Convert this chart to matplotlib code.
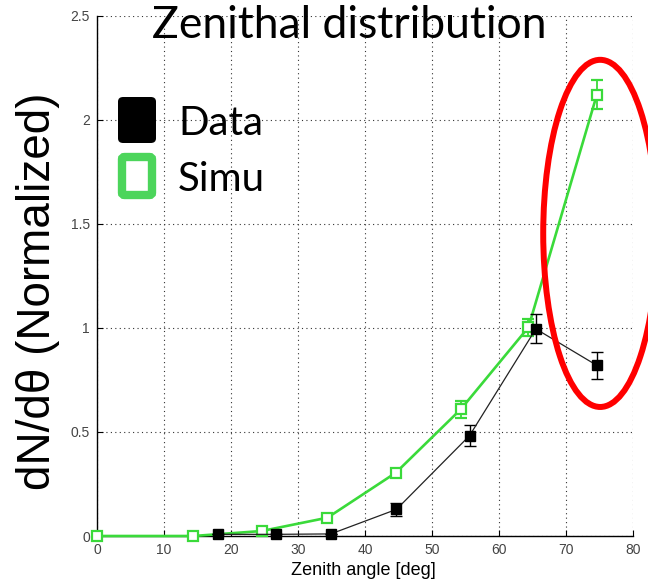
import matplotlib
matplotlib.use("Agg")
import matplotlib.pyplot as plt
from matplotlib.patches import Ellipse, FancyBboxPatch

# Measured zenith distributions (normalized)
data_angle = [18.1, 26.7, 34.9, 44.7, 55.6, 65.5, 74.6]
data_value = [0.008, 0.008, 0.01, 0.128, 0.482, 0.995, 0.82]
data_err = [0.0, 0.0, 0.0, 0.03, 0.05, 0.07, 0.065]

simu_angle = [0.0, 14.4, 24.6, 34.4, 44.6, 54.3, 64.4, 74.6]
simu_value = [0.0, 0.0, 0.024, 0.088, 0.304, 0.609, 1.003, 2.12]
simu_err = [0.0, 0.0, 0.01, 0.01, 0.02, 0.04, 0.04, 0.07]

x_ticks = [0, 10, 20, 30, 40, 50, 60, 70, 80]
y_ticks = [0, 0.5, 1, 1.5, 2, 2.5]
y_tick_labels = ["0", "0.5", "1", "1.5", "2", "2.5"]

GREEN = "#3ADA3A"
LEGEND_GREEN = "#4CD55B"

W, H = 648, 583
fig = plt.figure(figsize=(W / 100, H / 100), dpi=100)
ax = fig.add_axes([97 / W, 1 - 536 / H, (633 - 97) / W, (536 - 15.7) / H])

ax.set_xlim(0, 80)
ax.set_ylim(0, 2.5)
ax.set_xticks(x_ticks)
ax.set_yticks(y_ticks)
ax.set_yticklabels(y_tick_labels)
ax.tick_params(direction="in", length=4, width=0.8, labelsize=10,
               labelcolor="#444444", pad=5)
for lab in ax.get_xticklabels() + ax.get_yticklabels():
    lab.set_family("Liberation Sans")
ax.spines["top"].set_visible(False)
ax.spines["right"].set_visible(False)
ax.spines["left"].set_linewidth(1.0)
ax.spines["bottom"].set_linewidth(1.0)
ax.grid(True, color="#333333", linestyle=(0, (1, 3)), linewidth=0.8)
ax.set_axisbelow(True)

# Simulation: hollow green squares on a thick line
ax.errorbar(simu_angle, simu_value, yerr=simu_err, color=GREEN, lw=1.9,
            marker="s", markersize=7.5, markerfacecolor="white",
            markeredgecolor=GREEN, markeredgewidth=1.6,
            ecolor=GREEN, elinewidth=1.3, capsize=4.5, capthick=1.3,
            zorder=3, clip_on=False)

# Data: filled black squares on a thin line
ax.errorbar(data_angle, data_value, yerr=data_err, color="#222222", lw=0.9,
            marker="s", markersize=7, markerfacecolor="black",
            markeredgecolor="black", ecolor="black", elinewidth=1.0,
            capsize=4.5, capthick=1.0, zorder=4, clip_on=False)

# Highlight around the last bin
ax.add_patch(Ellipse((75.1, 1.454), 17.0, 1.668, fill=False,
                     edgecolor="#FF0000", linewidth=4.3, zorder=5,
                     clip_on=False))

# Title and labels
fig.text(349 / W, 1 - 38 / H, "Zenithal distribution", fontsize=32,
         family="Lato", ha="center", va="baseline", color="black")
fig.text(38 / W, 1 - 291 / H, "dN/d\u03b8 (Normalized)", fontsize=33,
         family="Liberation Sans", rotation=90, ha="center", va="center")
fig.text(363 / W, 1 - 575 / H, "Zenith angle [deg]", fontsize=13,
         family="Liberation Sans", ha="center", va="baseline")

# Legend drawn as rounded swatches with large text
fig.patches.append(FancyBboxPatch((118 / W, 1 - 143 / H), 38 / W, 46 / H,
                                  boxstyle="round,pad=0,rounding_size=0.008",
                                  transform=fig.transFigure, facecolor="black",
                                  edgecolor="none"))
fig.patches.append(FancyBboxPatch((122 / W, 1 - 195 / H), 30 / W, 38 / H,
                                  boxstyle="round,pad=0,rounding_size=0.004",
                                  transform=fig.transFigure, facecolor="white",
                                  edgecolor=LEGEND_GREEN, linewidth=6))
fig.text(178 / W, 1 - 135 / H, "Data", fontsize=29, family="Lato",
         ha="left", va="baseline")
fig.text(178 / W, 1 - 191 / H, "Simu", fontsize=29, family="Lato",
         ha="left", va="baseline")

fig.savefig("out.png", dpi=100)
